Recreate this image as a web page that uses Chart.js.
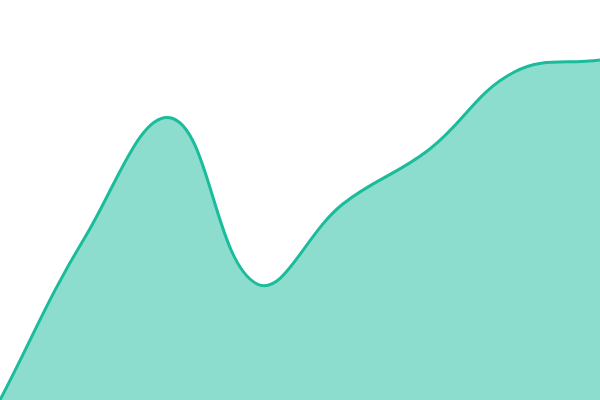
<!DOCTYPE html>
<html>
<head>
<meta charset="utf-8">
<script src="https://cdn.jsdelivr.net/npm/chart.js@4/dist/chart.umd.min.js"></script>
<style>
  html, body { margin: 0; padding: 0; background: #fff; }
  #wrap { width: 600px; height: 400px; }
</style>
</head>
<body>
<div id="wrap"><canvas id="areaChart"></canvas></div>
<script>
const labels = ["1", "2", "3", "4", "5", "6", "7", "8"];
const values = [0, 41, 70.5, 29, 49, 62.5, 82, 85];

const ctx = document.getElementById("areaChart").getContext("2d");
new Chart(ctx, {
  type: "line",
  data: {
    labels: labels,
    datasets: [
      {
        data: values,
        borderColor: "#1abc9c",
        backgroundColor: "rgba(26, 188, 156, 0.5)",
        borderWidth: 3,
        tension: 0.4,
        fill: true,
        pointRadius: 0,
      },
    ],
  },
  options: {
    responsive: true,
    maintainAspectRatio: false,
    animation: false,
    layout: { padding: 0 },
    plugins: { legend: { display: false }, tooltip: { enabled: false } },
    scales: {
      x: { display: false },
      y: { display: false, min: 0, max: 100 },
    },
  },
});
</script>
</body>
</html>
